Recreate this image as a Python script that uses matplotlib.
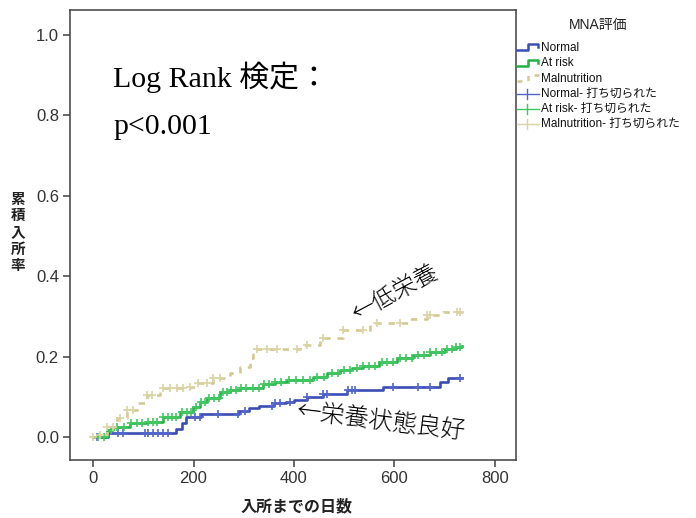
import numpy as np
import matplotlib
matplotlib.use("Agg")
import matplotlib.pyplot as plt
from matplotlib.lines import Line2D

# ---------------- data ----------------
normal_t = [0, 30, 165, 178, 185, 215, 290, 310, 330, 360, 385, 400, 426, 458, 505, 577, 690, 706, 734]
normal_v = [0.0, 0.01, 0.02, 0.035, 0.05, 0.057, 0.065, 0.072, 0.077, 0.085, 0.088, 0.092, 0.10, 0.107, 0.117, 0.125, 0.137, 0.147, 0.147]
normal_cens = [8, 50, 60, 103, 110, 119, 129, 139, 149, 203, 213, 249, 289, 302, 356, 362, 372, 392,
               426, 458, 466, 507, 515, 521, 597, 647, 671, 730]

risk_t = [0, 28, 40, 74, 107, 139, 173, 199, 212, 227, 253, 272, 292, 338, 362, 386, 438, 465, 492, 515,
          537, 570, 605, 637, 670, 700, 722, 734]
risk_v = [0.0, 0.017, 0.025, 0.035, 0.038, 0.05, 0.062, 0.075, 0.086, 0.097, 0.112, 0.117, 0.122, 0.132,
          0.137, 0.142, 0.15, 0.158, 0.167, 0.172, 0.177, 0.187, 0.197, 0.205, 0.212, 0.219, 0.224, 0.226]
risk_cens = [10, 22, 35, 48, 62, 75, 88, 98, 110, 120, 128, 140, 150, 158, 166, 178, 188, 196, 205, 214,
             222, 230, 240, 250, 258, 266, 275, 285, 295, 305, 318, 330, 340, 350, 362, 375, 390, 404,
             418, 432, 446, 460, 475, 488, 500, 512, 525, 538, 550, 562, 575, 586, 598, 610, 622, 634,
             646, 658, 670, 682, 694, 704, 714, 722, 730]

mal_t = [0, 10, 28, 48, 68, 88, 107, 133, 193, 207, 239, 273, 293, 312, 318, 412, 452, 498, 551, 631, 665, 697, 734]
mal_v = [0.0, 0.005, 0.025, 0.047, 0.067, 0.085, 0.105, 0.122, 0.124, 0.134, 0.147, 0.16, 0.175, 0.196,
         0.218, 0.229, 0.246, 0.266, 0.283, 0.294, 0.303, 0.311, 0.313]
mal_cens = [0, 14, 28, 40, 54, 68, 80, 107, 117, 139, 153, 167, 179, 193, 209, 227, 239, 253, 326, 346,
            366, 406, 426, 458, 498, 537, 565, 611, 665, 671, 724, 730]

x_ticks = [0, 200, 400, 600, 800]
y_ticks = [0.0, 0.2, 0.4, 0.6, 0.8, 1.0]

legend_title = "MNA評価"
legend_labels = ["Normal", "At risk", "Malnutrition",
                 "Normal- 打ち切られた", "At risk- 打ち切られた", "Malnutrition- 打ち切られた"]

# ---------------- style ----------------
W, H = 696, 518
c_blue, c_green, c_tan = "#3a4db4", "#25b045", "#d3ca92"
cc_blue, cc_green, cc_tan = "#5265cc", "#40c860", "#dad3a4"
frame_col = "#404040"

plt.rcParams['font.family'] = ['Liberation Sans', 'Noto Sans CJK JP', 'DejaVu Sans']

fig = plt.figure(figsize=(W / 100, H / 100), dpi=100)
def fx(px): return px / W
def fy(py): return 1 - py / H

ax_l, ax_r, ax_t, ax_b = 70, 516, 10, 460
ax = fig.add_axes([fx(ax_l), fy(ax_b), (ax_r - ax_l) / W, (ax_b - ax_t) / H])

ppd = (495 - 93) / 800.0
ax.set_xlim((ax_l - 93) / ppd, (ax_r - 93) / ppd)
ppv = (437 - 35) / 1.0
ax.set_ylim((437 - ax_b) / ppv, (437 - ax_t) / ppv)

def step_at(t, times, vals):
    times = np.asarray(times); vals = np.asarray(vals)
    idx = np.searchsorted(times, t, side='right') - 1
    return vals[np.clip(idx, 0, len(vals) - 1)]

lw = 1.9
ax.step(normal_t, normal_v, where='post', color=c_blue, lw=lw, zorder=3)
ax.step(risk_t, risk_v, where='post', color=c_green, lw=lw, zorder=3)
ax.step(mal_t, mal_v, where='post', color=c_tan, lw=lw, zorder=3,
        linestyle=(0, (2.4, 2.6)))

for cens, t, v, col in [(normal_cens, normal_t, normal_v, cc_blue),
                        (risk_cens, risk_t, risk_v, cc_green),
                        (mal_cens, mal_t, mal_v, cc_tan)]:
    ax.plot(cens, step_at(cens, t, v), linestyle='none', marker='+', markersize=6,
            markeredgewidth=1.2, color=col, zorder=4)

ax.set_xticks(x_ticks)
ax.set_xticklabels([str(v) for v in x_ticks])
ax.set_yticks(y_ticks)
ax.set_yticklabels([f"{v:.1f}" for v in y_ticks])
ax.tick_params(direction='out', length=5, width=1.1, colors=frame_col,
               labelsize=12, labelcolor="#333333", pad=3)
for s in ax.spines.values():
    s.set_color(frame_col)
    s.set_linewidth(1.1)

# axis labels
fig.text(fx(18), fy(232), "\n".join("累積入所率"), ha='center', va='center',
         fontsize=10.5, fontweight='bold', linespacing=1.05, color="#222222",
         family=['Noto Sans CJK JP'])
fig.text(fx(297), fy(506), "入所までの日数", ha='center', va='center',
         fontsize=11.5, fontweight='bold', color="#222222", family=['Noto Sans CJK JP'])

# in-plot texts
serif = ['Liberation Serif', 'Noto Sans CJK JP']
fig.text(fx(113), fy(87), "Log Rank 検定：", ha='left', va='baseline', fontsize=21.5,
         family=serif, color='black')
fig.text(fx(113), fy(134), "p<0.001", ha='left', va='baseline', fontsize=21.5,
         family=serif, color='black')
fig.text(fx(395), fy(293), "←低栄養", ha='center', va='center', fontsize=17,
         rotation=28, rotation_mode='anchor', family=['Noto Sans CJK JP'],
         fontweight='light', color='black')
fig.text(fx(380), fy(422), "←栄養状態良好", ha='center', va='center', fontsize=17.5,
         rotation=-7, rotation_mode='anchor', family=['Noto Sans CJK JP'],
         fontweight='light', color='black')

# ---------------- legend (outside, right) ----------------
lg = fig.add_axes([0, 0, 1, 1], facecolor='none')
lg.set_xlim(0, W); lg.set_ylim(H, 0); lg.axis('off')
lg.text(598, 25, legend_title, ha='center', va='center', fontsize=10, color='#222222')
ys = [48, 63.5, 78.5, 93.5, 108.5, 123.5]
colors = [c_blue, c_green, c_tan]
ccols = [cc_blue, cc_green, cc_tan]
x0 = 517
for i in range(3):
    y = ys[i]
    px = [x0, x0 + 11, x0 + 11, x0 + 21, x0 + 21]
    py = [y + 2, y + 2, y - 4, y - 4, y - 1]
    ls = '-' if i < 2 else (0, (2.0, 2.6))
    lg.add_line(Line2D(px, py, color=colors[i], lw=1.8, linestyle=ls))
for i in range(3):
    y = ys[3 + i]
    lg.add_line(Line2D([x0, x0 + 22], [y, y], color=ccols[i], lw=1.0))
    lg.add_line(Line2D([x0 + 10, x0 + 10], [y - 5, y + 5], color=ccols[i], lw=1.0))
for i, lab in enumerate(legend_labels):
    lg.text(541, ys[i], lab, ha='left', va='center', fontsize=8.5, color='#111111')

fig.savefig("out.png", dpi=100)
